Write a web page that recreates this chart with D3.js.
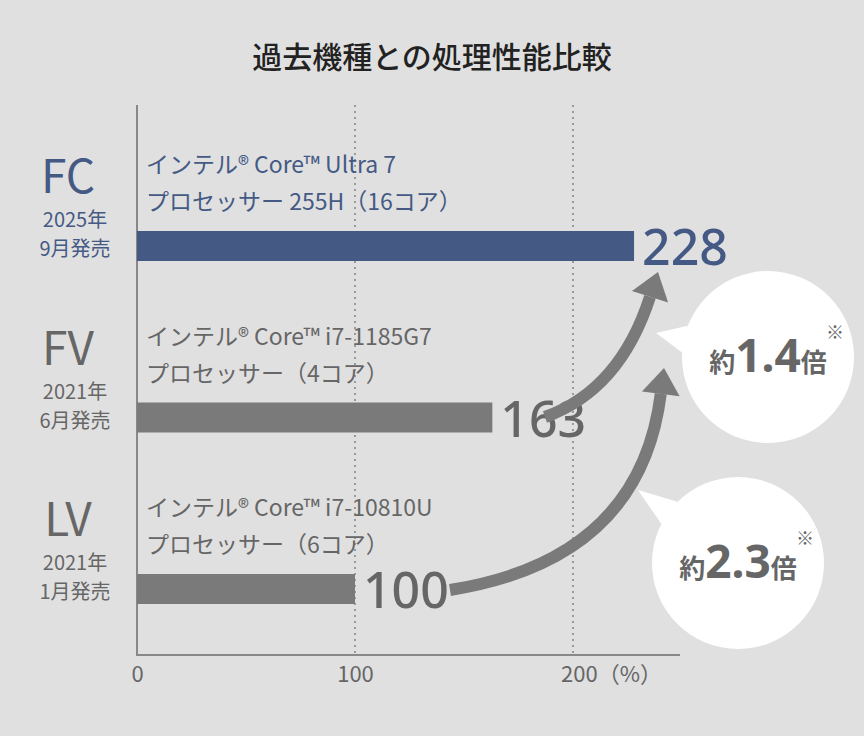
<!DOCTYPE html><html><head><meta charset="utf-8"><script src="https://cdn.jsdelivr.net/npm/d3@7"></script>
<style>body{margin:0;background:#e0e0e0}svg{display:block}</style></head><body><svg id="c" width="864" height="736"></svg>
<script>
const categories=["FC","FV","LV"];
const values=[228,163,100];
const dates1=["2025年","2021年","2021年"];
const dates2=["9月発売","6月発売","1月発売"];
const desc1=["インテル® Core™ Ultra 7","インテル® Core™ i7-1185G7","インテル® Core™ i7-10810U"];
const desc2=["プロセッサー 255H（16コア）","プロセッサー（4コア）","プロセッサー（6コア）"];
const ticks=[0,100,200];
const ratios=["1.4","2.3"];
const F="'Noto Sans CJK JP','Noto Sans',sans-serif";
const svg=d3.select("#c").style("font-family",F);
svg.append("rect").attr("width",864).attr("height",736).attr("fill","#e0e0e0");
const x=d3.scaleLinear().domain([0,250]).range([137,682]);
const yc=d3.scalePoint().domain(categories).range([246,589]);
const cols=["#445a85","#7a7a7a","#7a7a7a"];
svg.append("text").attr("x",432).attr("y",68).attr("text-anchor","middle").attr("font-size",30).attr("font-weight",500).attr("fill","#222").text("過去機種との処理性能比較");
// grid
ticks.slice(1).forEach(t=>svg.append("line").attr("x1",x(t)).attr("x2",x(t)).attr("y1",105).attr("y2",655).attr("stroke","#9a9a9a").attr("stroke-width",2).attr("stroke-dasharray","2,4"));
svg.append("line").attr("x1",137).attr("x2",137).attr("y1",105).attr("y2",656).attr("stroke","#888").attr("stroke-width",2);
const ax=svg.append("g").attr("transform","translate(0,655)").call(d3.axisBottom(x).tickValues(ticks).tickSize(0).tickFormat(d=>d===200?"200（%）":d));
ax.select(".domain").attr("stroke","#888").attr("stroke-width",2).attr("d","M137,0H680");
ax.selectAll("text").attr("font-size",22).attr("fill","#666").attr("font-family",F).attr("dy",24);
ax.selectAll(".tick").filter(d=>d===200).select("text").attr("dx",38);
categories.forEach((c,i)=>{
  const y=yc(c);
  svg.append("rect").attr("x",x(0)).attr("y",y-15).attr("width",x(values[i])-x(0)).attr("height",30).attr("fill",cols[i]);
  svg.append("text").attr("x",x(values[i])+8).attr("y",y+19).attr("font-size",50).attr("font-family","'Noto Sans',sans-serif").attr("font-weight",500).attr("fill",i?"#666":"#445a85").text(values[i]);
  const tc=i?"#666":"#445a85";
  svg.append("text").attr("x",68).attr("y",y-53).attr("text-anchor","middle").attr("font-size",46).attr("fill",tc).text(c);
  svg.append("text").attr("x",75).attr("y",y-19).attr("text-anchor","middle").attr("font-size",20).attr("fill",tc).text(dates1[i]);
  svg.append("text").attr("x",75).attr("y",y+10).attr("text-anchor","middle").attr("font-size",20).attr("fill",tc).text(dates2[i]);
  svg.append("text").attr("x",146).attr("y",y-73).attr("font-size",23).attr("fill",tc).text(desc1[i]);
  svg.append("text").attr("x",146).attr("y",y-36).attr("font-size",23).attr("fill",tc).text(desc2[i]);
});
// arrows
function arrow(x0,y0,cx,cy,x1,y1){
  const ang=Math.atan2(y1-cy,x1-cx);
  const hl=26,hw=19;
  const bx=x1-hl*Math.cos(ang),by=y1-hl*Math.sin(ang);
  svg.append("path").attr("d",`M${x0},${y0}Q${cx},${cy} ${bx},${by}`).attr("fill","none").attr("stroke","#7a7a7a").attr("stroke-width",12);
  const px=-Math.sin(ang),py=Math.cos(ang);
  svg.append("path").attr("d",`M${x1},${y1}L${bx+px*hw},${by+py*hw}L${bx-px*hw},${by-py*hw}Z`).attr("fill","#7a7a7a");
}
arrow(545,417,620,390,658,272);
arrow(450,590,640,560,664,368);
// bubbles
function bubble(cx,cy,tx,ty,r,txt){
  const a=Math.atan2(ty-cy,tx-cx),d=0.16;
  svg.append("path").attr("d",`M${cx+r*Math.cos(a-d)},${cy+r*Math.sin(a-d)}L${tx},${ty}L${cx+r*Math.cos(a+d)},${cy+r*Math.sin(a+d)}Z`).attr("fill","#fff");
  svg.append("circle").attr("cx",cx).attr("cy",cy).attr("r",r).attr("fill","#fff");
  const t=svg.append("text").attr("x",cx).attr("y",cy+15).attr("text-anchor","middle").attr("fill","#666").attr("font-weight",700);
  t.append("tspan").attr("font-size",26).text("約");
  t.append("tspan").attr("font-size",46).attr("font-family","'Noto Sans',sans-serif").text(txt);
  t.append("tspan").attr("font-size",26).text("倍");
  svg.append("text").attr("x",cx+58).attr("y",cy-18).attr("font-size",18).attr("fill","#666").text("※");
}
bubble(768,357,656,333,86,ratios[0]);
bubble(738,563,638,490,86,ratios[1]);
</script></body></html>
